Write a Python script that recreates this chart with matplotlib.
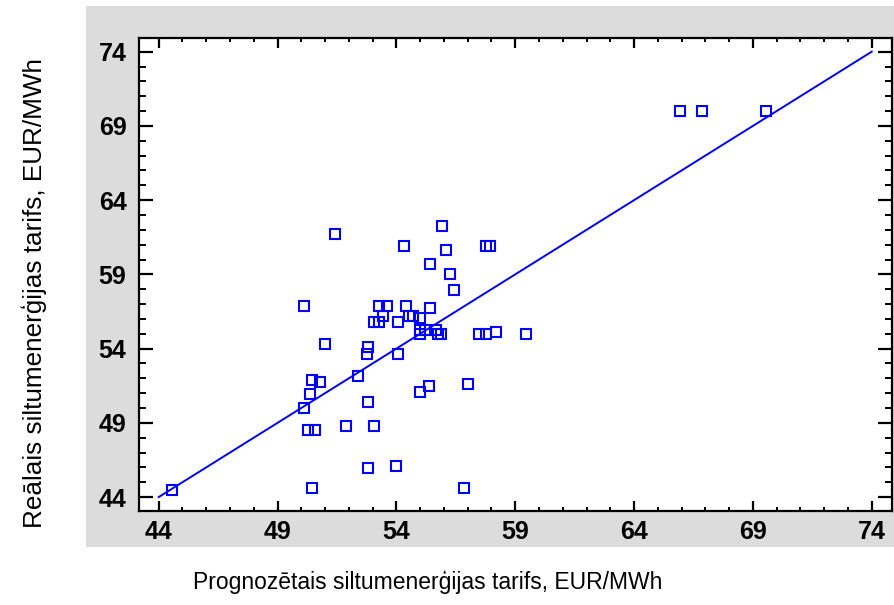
import matplotlib
matplotlib.use('Agg')
from matplotlib import pyplot as plt
from matplotlib.ticker import MultipleLocator

# predicted vs real tariff, EUR/MWh
predicted = [44.57, 50.47, 56.86, 52.82, 53.99, 50.27, 50.57, 51.89, 53.07, 50.13,
             52.82, 50.38, 55.01, 55.36, 57.02, 50.47, 50.80, 52.40, 52.75, 54.08,
             52.82, 50.98, 55.01, 55.74, 55.88, 57.46, 57.78, 58.20, 59.45, 55.01,
             55.19, 55.67, 53.04, 53.26, 54.08, 55.01, 53.42, 54.53, 54.71, 50.13,
             53.28, 53.59, 54.41, 55.43, 56.44, 56.26, 55.42, 54.33, 56.10, 57.77,
             57.95, 51.40, 55.93, 65.94, 66.86, 69.55]
real = [44.45, 44.58, 44.58, 45.93, 46.06, 48.49, 48.49, 48.76, 48.76, 49.98,
        50.38, 50.92, 51.05, 51.46, 51.60, 51.86, 51.73, 52.13, 53.62, 53.62,
        54.13, 54.29, 54.96, 54.96, 54.96, 54.96, 54.96, 55.10, 54.99, 55.28,
        55.28, 55.28, 55.77, 55.77, 55.77, 56.04, 56.18, 56.20, 56.20, 56.85,
        56.85, 56.85, 56.85, 56.72, 57.96, 59.04, 59.71, 60.93, 60.65, 60.93,
        60.93, 61.73, 62.27, 69.98, 69.98, 70.00]
diag = [44, 74]
ticks = [44, 49, 54, 59, 64, 69, 74]

fig = plt.figure(figsize=(8.95, 6.05), dpi=100)
# grey panel behind the plot
bg = fig.add_axes([86 / 895, 1 - 547 / 605, 809 / 895, 541 / 605])
bg.set_facecolor('#dcdcdc')
bg.set_xticks([])
bg.set_yticks([])
for s in bg.spines.values():
    s.set_visible(False)

ax = fig.add_axes([139 / 895, 1 - 510.7 / 605, 752.7 / 895, 473 / 605])
ax.set_facecolor('white')

ax.plot(diag, diag, color='#0000ff', lw=1.4, zorder=2)
ax.plot(predicted, real, 's', ms=6.5, mfc='none', mec='#0000ff', mew=1.5, zorder=3)

ax.set_xlim(43.17, 74.84)
ax.set_ylim(43.08, 74.94)
ax.set_xticks(ticks)
ax.set_yticks(ticks)
ax.xaxis.set_minor_locator(MultipleLocator(1))
ax.yaxis.set_minor_locator(MultipleLocator(1))
for s in ax.spines.values():
    s.set_linewidth(1.6)
ax.tick_params(axis='x', which='major', direction='in', length=7, width=1.6,
               top=True, pad=7)
ax.tick_params(axis='x', which='minor', direction='in', length=3, width=1.4, top=True)
ax.tick_params(axis='y', which='major', direction='in', length=10, width=1.6,
               right=True, pad=9)
ax.tick_params(axis='y', which='minor', direction='in', length=5, width=1.4, right=True)
for lab in ax.get_xticklabels() + ax.get_yticklabels():
    lab.set_fontfamily('Liberation Sans')
    lab.set_fontweight('bold')
    lab.set_fontsize(18)

fig.text(428 / 895, 1 - 582 / 605, 'Prognozētais siltumenerģijas tarifs, EUR/MWh',
         ha='center', va='center', fontsize=16.5, family='Liberation Sans')
fig.text(34 / 895, 1 - 293 / 605, 'Reālais siltumenerģijas tarifs, EUR/MWh',
         ha='center', va='center', rotation=90, fontsize=18.8, family='Liberation Sans')

fig.savefig('out.png', dpi=100)
